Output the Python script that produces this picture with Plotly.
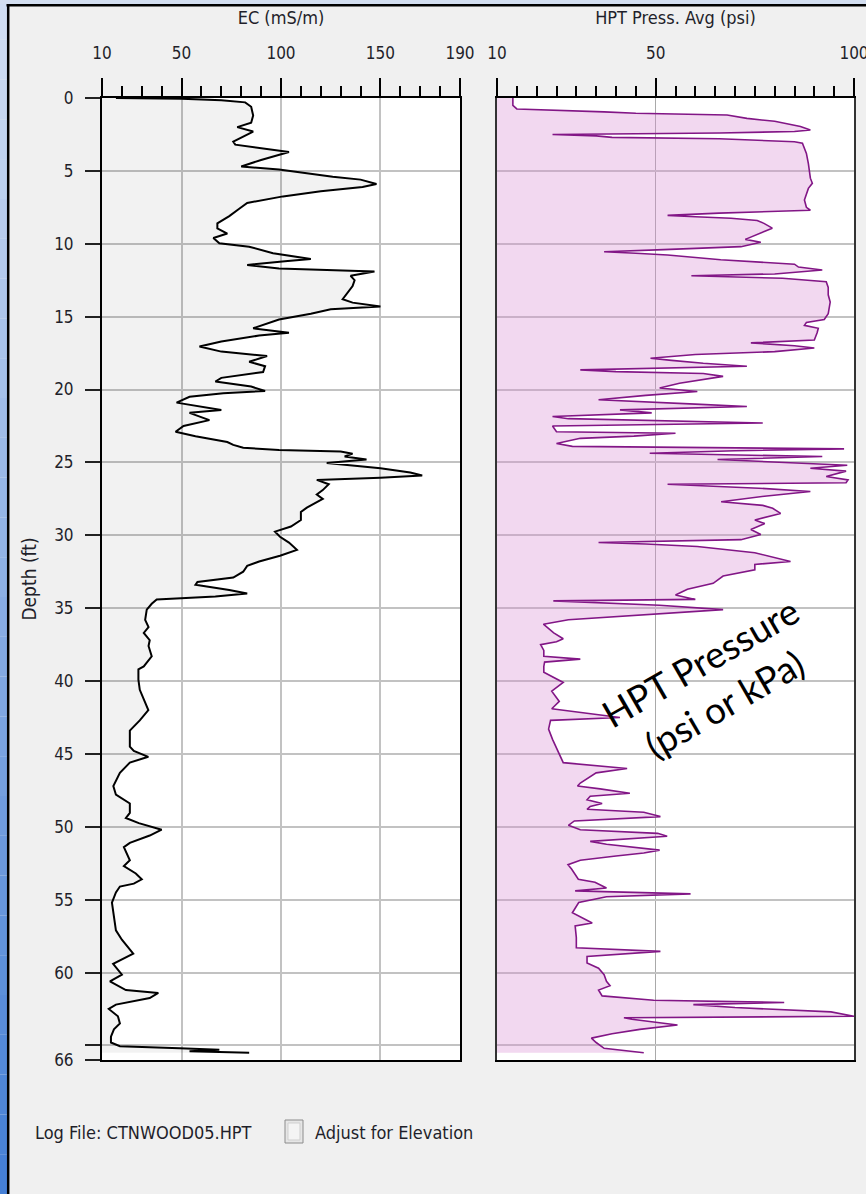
import plotly.graph_objects as go

W, H = 866, 1194

# ---------------- data ----------------
ec_depth = [0, 0.05, 0.15, 0.3, 0.6, 1.2, 1.7, 2.0, 2.3, 2.6, 3.0, 3.2, 3.7, 4.25, 4.7, 4.9, 5.4, 5.6, 5.9, 6.1,
            6.4, 6.75, 7.2, 7.6, 8.1, 8.6, 8.95, 9.3, 9.6, 9.97, 10.2, 10.65, 10.9, 11.04, 11.2, 11.45, 11.7, 11.9,
            12.2, 12.5, 12.9, 13.4, 13.8, 14.04, 14.3, 14.5, 14.8, 15.2, 15.65, 15.8, 16.1, 16.3, 16.7, 17.05,
            17.4, 17.7, 18.1, 18.4, 18.8, 19.2, 19.45, 19.8, 20.1, 20.25, 20.5, 20.9, 21.4, 21.6, 22.1, 22.5,
            22.9, 23.2, 23.6, 23.8, 24.0, 24.15, 24.26, 24.4, 24.6, 24.8, 25.05, 25.4, 25.7, 25.9, 26.05, 26.2,
            26.5, 26.9, 27.2, 27.5, 28.1, 28.4, 28.95, 29.4, 29.75, 30.1, 30.5, 31.0, 31.4, 31.8, 32.1, 32.5,
            32.9, 33.2, 33.4, 33.75, 34.0, 34.2, 34.4, 34.7, 35.1, 35.8, 36.3, 36.7, 37.2, 37.6, 38.3, 39.0,
            39.2, 39.9, 40.6, 41.3, 42.0, 42.7, 43.4, 44.5, 44.8, 45.2, 45.6, 46.3, 47.2, 47.8, 48.4, 49.05,
            49.4, 49.75, 50.2, 50.6, 51.1, 51.4, 52.3, 52.7, 53.2, 53.6, 53.9, 54.1, 54.5, 55.2, 55.9, 57.1,
            57.75, 58.7, 59.4, 60.15, 60.6, 61.2, 61.4, 61.75, 62.2, 62.5, 63.0, 63.5, 63.9, 64.4, 64.8, 65.05,
            65.2, 65.3, 65.4, 65.5]
ec_value = [17, 50, 70, 82, 85, 86, 85, 78, 86, 82, 76, 77, 104, 90, 80, 99, 126, 140, 148, 141,
            120, 101, 83, 79, 74, 68, 68, 73, 66, 69, 84, 96, 107, 115, 102, 83, 99, 147,
            135, 137, 136, 133, 131, 136, 150, 125, 115, 99, 89, 86, 104, 89, 70, 59,
            70, 93, 84, 92, 91, 70, 67, 85, 92, 71, 54, 47.5, 70, 54, 64, 51,
            47, 57, 73, 76, 81, 99, 130, 136, 132, 143, 123, 150, 165, 171, 150, 118,
            124, 121, 118, 121, 113, 110, 110, 105, 97, 99.5, 104, 108, 99.5, 89, 83, 81,
            76, 58, 57, 74, 83, 67, 37.5, 35, 32.5, 31.7, 33.4, 31, 34, 33.4, 35, 31,
            28.3, 28.3, 29, 31, 33.3, 29, 24, 24, 26, 33.3, 24, 19, 15.7, 17, 24, 24,
            22, 28.5, 40, 34, 24, 21, 24, 21, 27, 30, 26, 19, 17, 15, 15.6, 17,
            20, 25.7, 15.6, 20, 14, 22, 38.3, 34, 17, 13.4, 18, 19, 16, 14.5, 14.5, 19,
            49, 69, 54, 84]

hpt_depth = [0, 0.5, 0.75, 0.85, 0.95, 1.05, 1.17, 1.4, 1.6, 1.95, 2.2, 2.3, 2.4, 2.5, 2.6, 2.7, 2.8, 3.0, 3.1,
             3.8, 4.5, 5.5, 5.85, 6.2, 6.6, 7.0, 7.5, 7.7, 7.9, 8.05, 8.15, 8.25, 8.4, 8.6, 8.93, 9.3, 9.5, 9.7,
             9.9, 10.2, 10.4, 10.55, 10.65, 10.77, 11.1, 11.4, 11.6, 11.8, 12.07, 12.2, 12.37, 12.6, 13.0, 13.5,
             14.0, 14.8, 15.2, 15.4, 15.6, 15.8, 16.1, 16.6, 16.8, 17.0, 17.15, 17.3, 17.4, 17.6, 17.85, 18.0,
             18.2, 18.4, 18.65, 18.77, 18.9, 19.1, 19.57, 19.9, 20.14, 20.4, 20.7, 21.0, 21.17, 21.4, 21.6,
             21.85, 22.0, 22.3, 22.5, 22.9, 23.0, 23.2, 23.35, 23.7, 23.9, 24.07, 24.2, 24.37, 24.6, 24.8, 25.2,
             25.4, 25.6, 25.97, 26.2, 26.4, 26.5, 26.77, 27.0, 27.3, 27.7, 27.95, 28.15, 28.5, 28.95, 29.2,
             29.6, 29.95, 30.3, 30.5, 30.6, 30.77, 31.2, 31.8, 32.0, 32.37, 32.8, 33.3, 33.7, 34.1, 34.4, 34.5,
             34.8, 35.1, 35.46, 35.8, 36.1, 36.7, 37.1, 37.3, 37.5, 37.9, 38.3, 38.5, 38.7, 39.0, 39.4, 40.1,
             40.7, 41.4, 41.9, 42.5, 42.7, 43.3, 44.0, 44.6, 45.6, 46.0, 46.3, 47.0, 47.2, 47.4, 47.7, 47.9,
             48.15, 48.4, 48.6, 48.8, 49.0, 49.3, 49.6, 49.9, 50.2, 50.45, 50.65, 51.0, 51.2, 51.6, 51.8, 52.0,
             52.3, 52.6, 52.9, 53.6, 53.8, 54.2, 54.4, 54.6, 54.8, 55.2, 55.9, 56.6, 56.8, 57.6, 58.3, 58.55,
             58.9, 59.35, 59.7, 60.15, 60.6, 60.9, 61.2, 61.6, 61.9, 62.05, 62.2, 62.4, 62.7, 63.0, 63.1, 63.2,
             63.6, 63.9, 64.2, 64.5, 64.8, 65.2, 65.5]
hpt_value = [14, 14, 15, 28, 37, 45, 68, 73, 80, 86.5, 89, 85, 66, 24, 35, 39, 66, 85, 87,
             88, 88.5, 89, 89.5, 88.5, 88, 87.5, 88, 89, 66, 53, 60, 69, 75.6, 77.3, 79.4, 76, 74, 72.6,
             76.5, 71.5, 52, 37, 45, 53, 66.4, 85, 86, 92, 80, 59, 82, 93, 93.5, 93.5,
             94, 93.5, 92.5, 88, 87.5, 91, 90.7, 90, 74, 85, 90, 84, 80, 60, 48.7, 54,
             62, 73, 31, 40, 62, 67, 56, 51, 60.5, 47.5, 35.6, 60, 73, 41, 49,
             24, 28, 77, 24, 25, 55, 44.5, 31, 25, 29, 97.5, 70, 48.5, 92, 65.6, 98.3,
             89, 98, 93, 98.5, 98, 53, 76, 89, 78, 66.5, 77, 79.5, 81.5, 75, 77.5,
             74, 76.5, 71.5, 35.6, 47.5, 60.5, 75, 84, 75, 75, 67, 64.5, 58, 55, 60, 24.2,
             51, 67, 47.5, 28, 21.7, 24.3, 26.7, 25, 21, 21.8, 21.8, 31, 22, 21.8, 21.8, 26.7,
             23.8, 25.7, 23.8, 41, 23.5, 23, 24, 25, 26.7, 42.8, 35, 31, 30.3, 36, 43.5, 33.5,
             32.7, 36.5, 33.5, 32.7, 47, 51.2, 29.5, 28, 31, 50.5, 52.9, 33.5, 37.6, 51, 47, 40,
             31, 27.9, 28.8, 30.5, 34.7, 37.6, 29.7, 58.8, 37.6, 30.6, 29, 34, 29.7, 30, 30, 51.2,
             32.7, 32.7, 35.6, 37, 37.6, 38.5, 35.6, 36.5, 49.5, 82.4, 59.5, 70, 94.2, 100, 42, 44,
             55.5, 46, 39, 33.8, 35, 37, 47]

depth_ticks = list(range(0, 70, 5)) + [66]
depth_labels = [str(d) for d in range(0, 65, 5)] + ["", "66"]
ec_ticks = [10, 50, 100, 150, 190]
hpt_ticks = [10, 50, 100]

# ---------------- styling ----------------
FONT = "DejaVu Sans Condensed, Liberation Sans Narrow, sans-serif"
TXT = "#1f1f2a"
GRID = "#c2c2c2"

# plot area in pixels
PL, PR, PT, PB = 102, 854, 98, 1060
PW, PH = PR - PL, PB - PT


def fx(px):
    return (px - PL) / PW


def fy(py):
    return (PB - py) / PH


fig = go.Figure()

fig.add_trace(go.Scatter(
    x=ec_value, y=ec_depth, mode="lines", fill="tozerox",
    fillcolor="rgba(0,0,0,0.05)", line=dict(color="black", width=2),
    xaxis="x", yaxis="y", showlegend=False, hoverinfo="skip"))

fig.add_trace(go.Scatter(
    x=hpt_value, y=hpt_depth, mode="lines", fill="tozerox",
    fillcolor="rgba(218,144,212,0.35)", line=dict(color="#821686", width=1.6),
    xaxis="x2", yaxis="y2", showlegend=False, hoverinfo="skip"))

common_x = dict(
    side="top", ticks="outside", ticklen=18, tickwidth=1.5, tickcolor="black",
    showline=True, linecolor="black", linewidth=2, mirror=True, zeroline=False,
    showgrid=True, tickfont=dict(family=FONT, size=17, color=TXT),
    ticklabelstandoff=12, ticklabeloverflow="allow", fixedrange=True, automargin=False,
)

fig.update_layout(
    width=W, height=H,
    margin=dict(l=PL, r=W - PR, t=PT, b=H - PB, autoexpand=False),
    paper_bgcolor="#f0f0f0", plot_bgcolor="white",
    xaxis=dict(
        domain=[0, fx(460)], anchor="y", range=[10, 190],
        tickmode="array", tickvals=ec_ticks, ticktext=[str(v) for v in ec_ticks],
        gridcolor=GRID, gridwidth=2,
        minor=dict(dtick=10, tick0=10, ticks="outside", ticklen=10, tickwidth=1.5,
                   tickcolor="black", showgrid=False),
        title=dict(text="EC (mS/m)", font=dict(family=FONT, size=18, color=TXT), standoff=14),
        **common_x,
    ),
    xaxis2=dict(
        domain=[fx(497), 1], anchor="y2", range=[10, 100],
        tickmode="array", tickvals=hpt_ticks, ticktext=[str(v) for v in hpt_ticks],
        gridcolor="#a9a9a9", gridwidth=1,
        minor=dict(dtick=5, tick0=10, ticks="outside", ticklen=10, tickwidth=1.5,
                   tickcolor="black", showgrid=False),
        title=dict(text="HPT Press. Avg (psi)", font=dict(family=FONT, size=18, color=TXT), standoff=14),
        **common_x,
    ),
    yaxis=dict(
        domain=[0, 1], anchor="x", range=[66, 0],
        tickmode="array", tickvals=depth_ticks, ticktext=depth_labels,
        ticks="outside", ticklen=15, tickwidth=2, tickcolor="#222",
        showline=True, linecolor="black", linewidth=2, mirror=True, zeroline=False,
        showgrid=True, gridcolor=GRID, gridwidth=2,
        tickfont=dict(family=FONT, size=17, color=TXT), ticklabelstandoff=8,
        title=dict(text="Depth (ft)", font=dict(family=FONT, size=19, color=TXT), standoff=12),
        fixedrange=True, automargin=False,
    ),
    yaxis2=dict(
        domain=[0, 1], anchor="x2", range=[66, 0],
        tickmode="array", tickvals=depth_ticks, ticktext=depth_labels,
        showticklabels=False, ticks="",
        showline=True, linecolor="#333", linewidth=2, mirror=True, zeroline=False,
        showgrid=True, gridcolor=GRID, gridwidth=2, fixedrange=True, automargin=False,
    ),
)

# ---------------- window chrome & controls ----------------
shapes = []
n = 30
c0 = (208, 221, 242)
c1 = (70, 128, 214)
for i in range(n):
    t = i / (n - 1)
    col = tuple(int(c0[k] + (c1[k] - c0[k]) * t) for k in range(3))
    shapes.append(dict(type="rect", xref="paper", yref="paper",
                       x0=fx(0), x1=fx(7.2), y0=fy(H * (i + 1) / n), y1=fy(H * i / n),
                       fillcolor="rgb(%d,%d,%d)" % col, line=dict(width=0), layer="above"))
shapes.append(dict(type="rect", xref="paper", yref="paper", x0=fx(0), x1=fx(W), y0=fy(4), y1=fy(0),
                   fillcolor="#d3def0", line=dict(width=0), layer="above"))
shapes.append(dict(type="line", xref="paper", yref="paper", x0=fx(6.5), x1=fx(W), y0=fy(5.2), y1=fy(5.2),
                   line=dict(color="black", width=2.5), layer="above"))
shapes.append(dict(type="line", xref="paper", yref="paper", x0=fx(8.2), x1=fx(8.2), y0=fy(H), y1=fy(4),
                   line=dict(color="black", width=2.5), layer="above"))
# checkbox
shapes.append(dict(type="rect", xref="paper", yref="paper", x0=fx(285), x1=fx(303), y0=fy(1143), y1=fy(1120),
                   fillcolor="#e6e6e6", line=dict(color="#8c8c8c", width=1), layer="above"))
shapes.append(dict(type="rect", xref="paper", yref="paper", x0=fx(288), x1=fx(300), y0=fy(1140), y1=fy(1123),
                   fillcolor="#f4f4f4", line=dict(color="#cfcfcf", width=1), layer="above"))
fig.update_layout(shapes=shapes)

annotations = [
    dict(text="Log File: CTNWOOD05.HPT", x=fx(33), y=fy(1132), xref="paper", yref="paper",
         xanchor="left", yanchor="middle", showarrow=False,
         font=dict(family=FONT, size=18, color=TXT)),
    dict(text="Adjust for Elevation", x=fx(313), y=fy(1132), xref="paper", yref="paper",
         xanchor="left", yanchor="middle", showarrow=False,
         font=dict(family=FONT, size=18, color=TXT)),
    dict(text="HPT Pressure<br>(psi or kPa)", x=fx(712), y=fy(682), xref="paper", yref="paper",
         xanchor="center", yanchor="middle", showarrow=False, textangle=-30,
         font=dict(family="Lato, Open Sans, sans-serif", size=37, color="black")),
]
fig.update_layout(annotations=annotations)

fig.write_html("out.html")
